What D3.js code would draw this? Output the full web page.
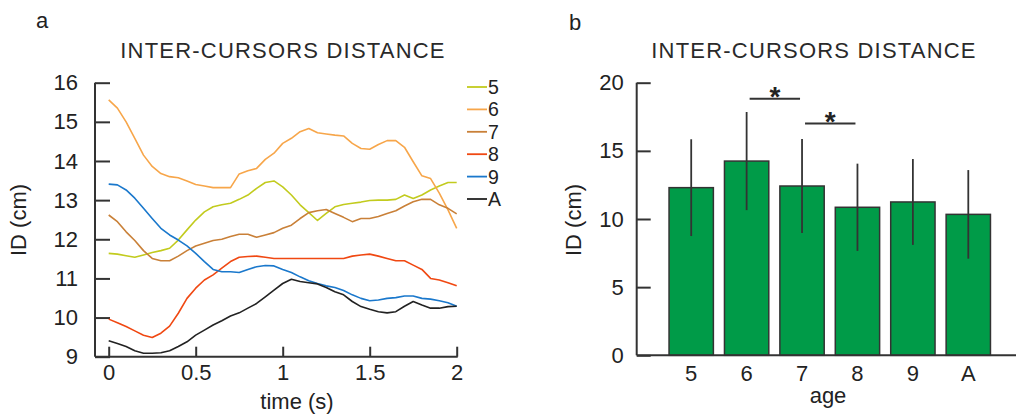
<!DOCTYPE html>
<html>
<head>
<meta charset="utf-8">
<script src="https://cdn.jsdelivr.net/npm/d3@7"></script>
<style>
  body { margin: 0; background: #fff; }
  svg { display: block; font-family: "Liberation Sans", Arial, sans-serif; }
  .tick text { font-size: 22px; fill: #222; }
  .label { font-size: 22px; fill: #222; }
  .legend text { font-size: 19.5px; fill: #222; }
  .title { font-size: 22px; fill: #2a2a2a; letter-spacing: 1.2px; }
</style>
</head>
<body>
<svg width="1016" height="417"></svg>
<script>
// **** data ****

var times = [0, 0.05, 0.1, 0.15, 0.2, 0.25, 0.3, 0.35, 0.4, 0.45, 0.5,
    0.55, 0.6, 0.65, 0.7, 0.75, 0.8, 0.85, 0.9, 0.95, 1.0,
    1.05, 1.1, 1.15, 1.2, 1.25, 1.3, 1.35, 1.4, 1.45, 1.5,
    1.55, 1.6, 1.65, 1.7, 1.75, 1.8, 1.85, 1.9, 1.95, 2.0];

var ages = ['5', '6', '7', '8', '9', 'A'];
var ageColors = ['#c2cb1e', '#f7a64a', '#c98038', '#f04812', '#1a78cc', '#222222'];

var id5 = [11.64, 11.62, 11.58, 11.54, 11.60, 11.66, 11.71, 11.77, 11.98, 12.24, 12.49,
    12.70, 12.83, 12.88, 12.92, 13.02, 13.13, 13.30, 13.45, 13.49, 13.34,
    13.13, 12.88, 12.68, 12.48, 12.66, 12.83, 12.89, 12.92, 12.95, 12.99,
    13.00, 13.00, 13.02, 13.13, 13.04, 13.13, 13.26, 13.36, 13.45, 13.45];
var id6 = [15.56, 15.35, 15.00, 14.58, 14.15, 13.86, 13.68, 13.60, 13.57, 13.49, 13.40,
    13.36, 13.32, 13.32, 13.32, 13.67, 13.75, 13.81, 14.04, 14.20, 14.45,
    14.58, 14.75, 14.83, 14.72, 14.69, 14.66, 14.64, 14.45, 14.32, 14.30,
    14.42, 14.52, 14.52, 14.35, 13.98, 13.62, 13.55, 13.18, 12.75, 12.28];
var id7 = [12.62, 12.45, 12.19, 11.97, 11.71, 11.51, 11.45, 11.45, 11.57, 11.71, 11.83,
    11.90, 11.97, 12.00, 12.07, 12.13, 12.13, 12.05, 12.11, 12.17, 12.28,
    12.36, 12.53, 12.68, 12.73, 12.76, 12.66, 12.56, 12.45, 12.53, 12.53,
    12.58, 12.66, 12.73, 12.85, 12.96, 13.02, 13.02, 12.88, 12.79, 12.65];
var id8 = [9.96, 9.87, 9.77, 9.66, 9.55, 9.49, 9.60, 9.78, 10.11, 10.49, 10.75,
    10.96, 11.09, 11.26, 11.43, 11.54, 11.56, 11.57, 11.54, 11.51, 11.51,
    11.51, 11.51, 11.51, 11.51, 11.51, 11.51, 11.51, 11.57, 11.60, 11.62,
    11.57, 11.51, 11.45, 11.45, 11.34, 11.23, 11.00, 10.96, 10.89, 10.81];
var id9 = [13.41, 13.39, 13.26, 13.05, 12.79, 12.53, 12.28, 12.11, 11.98, 11.83, 11.64,
    11.43, 11.23, 11.17, 11.17, 11.15, 11.23, 11.30, 11.33, 11.32, 11.23,
    11.15, 11.04, 10.94, 10.87, 10.81, 10.77, 10.69, 10.58, 10.49, 10.43,
    10.45, 10.49, 10.51, 10.55, 10.55, 10.49, 10.47, 10.43, 10.38, 10.29];
var idA = [9.41, 9.34, 9.26, 9.15, 9.09, 9.09, 9.10, 9.15, 9.26, 9.38, 9.55,
    9.68, 9.81, 9.92, 10.04, 10.12, 10.24, 10.36, 10.53, 10.70, 10.87,
    10.98, 10.92, 10.89, 10.86, 10.77, 10.66, 10.58, 10.41, 10.28, 10.21,
    10.15, 10.12, 10.15, 10.29, 10.41, 10.32, 10.24, 10.24, 10.28, 10.29];

var lineSeries = [id5, id6, id7, id8, id9, idA];

var barMeans = [12.30, 14.25, 12.42, 10.86, 11.25, 10.34];
var barErrors = [3.55, 3.60, 3.45, 3.20, 3.15, 3.25];

// significance brackets: [from, to, height]
var sigPairs = [['6', '7', 18.83], ['7', '8', 17.0]];

var lineTicksY = [9, 10, 11, 12, 13, 14, 15, 16];
var lineTicksX = [0, 0.5, 1, 1.5, 2];
var barTicksY = [0, 5, 10, 15, 20];

var svg = d3.select('svg');
var ink = '#333';

function plainTicks(g) {
    g.select('.domain').remove();
    g.selectAll('.tick line').attr('stroke', ink).attr('stroke-width', 2);
    g.selectAll('.tick text').attr('font-family', null).attr('font-size', null);
}

// **** panel a: lines ****

var timeScale = d3.scaleLinear().domain([0, 2]).range([108.7, 456.7]);
var idScale = d3.scaleLinear().domain([9, 16]).range([356.7, 82.7]);

// frame lines
svg.append('line')
    .attr('x1', 95).attr('x2', 95)
    .attr('y1', idScale(16)).attr('y2', idScale(9))
    .attr('stroke', ink).attr('stroke-width', 2);
svg.append('line')
    .attr('x1', 95).attr('x2', timeScale(2) + 1)
    .attr('y1', idScale(9)).attr('y2', idScale(9))
    .attr('stroke', ink).attr('stroke-width', 2);

svg.append('g').attr('class', 'y axis')
    .attr('transform', 'translate(95,0)')
    .call(d3.axisLeft(idScale).tickValues(lineTicksY).tickSize(-15).tickPadding(17)
        .tickFormat(d3.format('d')))
    .call(plainTicks);

svg.append('g').attr('class', 'x axis')
    .attr('transform', 'translate(0,' + idScale(9) + ')')
    .call(d3.axisBottom(timeScale).tickValues(lineTicksX).tickSize(-10).tickPadding(8)
        .tickFormat(function(d) { return d; }))
    .call(plainTicks);

var line = d3.line()
    .x(function(d, i) { return timeScale(times[i]); })
    .y(function(d) { return idScale(d); });

svg.selectAll('.series')
    .data(lineSeries)
    .enter()
    .append('path')
    .attr('class', 'series')
    .attr('fill', 'none')
    .attr('stroke', function(d, i) { return ageColors[i]; })
    .attr('stroke-width', 1.6)
    .attr('stroke-linejoin', 'round')
    .attr('d', line);

// legend
var legend = svg.selectAll('.legend')
    .data(ages)
    .enter()
    .append('g')
    .attr('class', 'legend')
    .attr('transform', function(d, i) { return 'translate(467,' + (87 + i * 22.4) + ')'; });
legend.append('line')
    .attr('x1', 0).attr('x2', 20)
    .attr('stroke', function(d, i) { return ageColors[i]; })
    .attr('stroke-width', 1.8);
legend.append('text')
    .attr('x', 21)
    .attr('dy', '0.36em')
    .text(function(d) { return d; });

svg.append('text').attr('class', 'label')
    .attr('x', 36).attr('y', 28)
    .text('a');
svg.append('text').attr('class', 'title')
    .attr('text-anchor', 'middle')
    .attr('x', 283).attr('y', 58)
    .text('INTER-CURSORS DISTANCE');
svg.append('text').attr('class', 'label')
    .attr('text-anchor', 'middle')
    .attr('transform', 'translate(26,220) rotate(-90)')
    .text('ID (cm)');
svg.append('text').attr('class', 'label')
    .attr('text-anchor', 'middle')
    .attr('x', 297).attr('y', 409)
    .text('time (s)');

// **** panel b: bars ****

var ageScale = d3.scaleBand().domain(ages).range([663.5, 996])
    .paddingInner(0.2).paddingOuter(0.1);
var barScale = d3.scaleLinear().domain([0, 20]).range([355.3, 82.7]);

svg.append('line')
    .attr('x1', 636.7).attr('x2', 636.7)
    .attr('y1', barScale(20)).attr('y2', barScale(0))
    .attr('stroke', ink).attr('stroke-width', 2);

svg.append('g').attr('class', 'y axis')
    .attr('transform', 'translate(636.7,0)')
    .call(d3.axisLeft(barScale).tickValues(barTicksY).tickSize(-14).tickPadding(13))
    .call(plainTicks);

var bars = svg.selectAll('.bar')
    .data(ages)
    .enter()
    .append('g')
    .attr('class', 'bar');
bars.append('rect')
    .attr('x', function(d) { return ageScale(d); })
    .attr('width', ageScale.bandwidth())
    .attr('y', function(d, i) { return barScale(barMeans[i]); })
    .attr('height', function(d, i) { return barScale(0) - barScale(barMeans[i]); })
    .attr('fill', '#009b48')
    .attr('stroke', ink)
    .attr('stroke-width', 1.5);
bars.append('line')
    .attr('x1', function(d) { return ageScale(d) + ageScale.bandwidth() / 2; })
    .attr('x2', function(d) { return ageScale(d) + ageScale.bandwidth() / 2; })
    .attr('y1', function(d, i) { return barScale(barMeans[i] + barErrors[i]); })
    .attr('y2', function(d, i) { return barScale(barMeans[i] - barErrors[i]); })
    .attr('stroke', ink)
    .attr('stroke-width', 1.8);

// x axis drawn after bars so it sits on top
svg.append('line')
    .attr('x1', 636.7).attr('x2', 1016)
    .attr('y1', barScale(0)).attr('y2', barScale(0))
    .attr('stroke', ink).attr('stroke-width', 2);

svg.append('g').attr('class', 'x axis')
    .attr('transform', 'translate(0,' + barScale(0) + ')')
    .call(d3.axisBottom(ageScale).tickSize(0).tickPadding(10))
    .call(plainTicks);

var sig = svg.selectAll('.sig')
    .data(sigPairs)
    .enter()
    .append('g')
    .attr('class', 'sig');
sig.append('line')
    .attr('x1', function(d) { return ageScale(d[0]) + ageScale.bandwidth() / 2 + 3; })
    .attr('x2', function(d) { return ageScale(d[1]) + ageScale.bandwidth() / 2 - 2; })
    .attr('y1', function(d) { return barScale(d[2]); })
    .attr('y2', function(d) { return barScale(d[2]); })
    .attr('stroke', ink)
    .attr('stroke-width', 2);
sig.append('text')
    .attr('text-anchor', 'middle')
    .attr('font-size', '28px')
    .attr('font-weight', 'bold')
    .attr('fill', '#222')
    .attr('x', function(d) { return (ageScale(d[0]) + ageScale(d[1])) / 2 + ageScale.bandwidth() / 2 + 0.5; })
    .attr('y', function(d) { return barScale(d[2]) + 7; })
    .text('*');

svg.append('text').attr('class', 'label')
    .attr('x', 569).attr('y', 30)
    .text('b');
svg.append('text').attr('class', 'title')
    .attr('text-anchor', 'middle')
    .attr('x', 814).attr('y', 58)
    .text('INTER-CURSORS DISTANCE');
svg.append('text').attr('class', 'label')
    .attr('text-anchor', 'middle')
    .attr('transform', 'translate(581,220) rotate(-90)')
    .text('ID (cm)');
svg.append('text').attr('class', 'label')
    .attr('text-anchor', 'middle')
    .attr('x', 828).attr('y', 403)
    .text('age');
</script>
</body>
</html>
